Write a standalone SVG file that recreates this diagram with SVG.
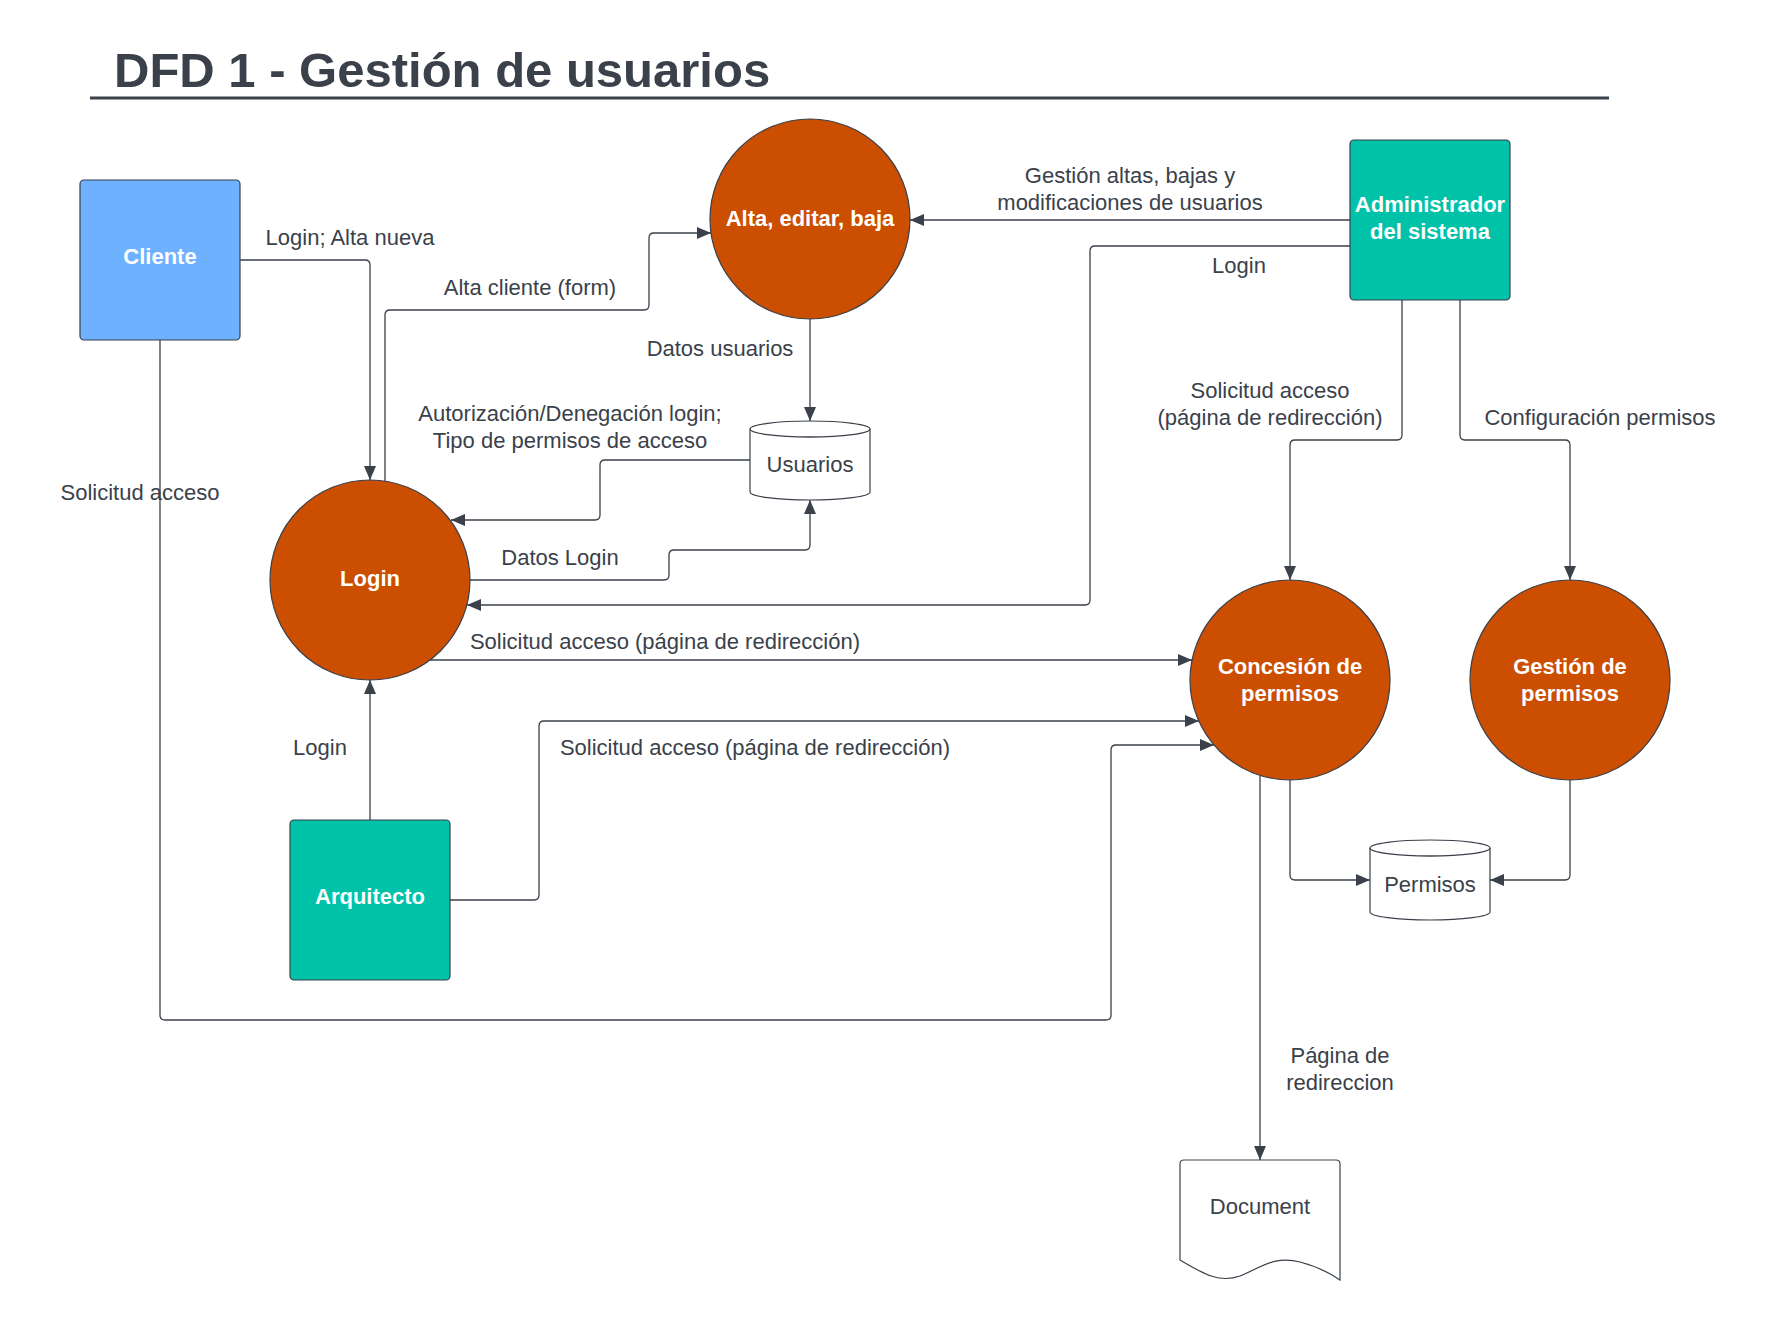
<svg xmlns="http://www.w3.org/2000/svg" width="1770" height="1320" viewBox="0 0 1770 1320">
<defs>
<style>
.ln{fill:none;stroke:#3a414a;stroke-width:1.3;marker-end:url(#ah)}
.nl{fill:none;stroke:#3a414a;stroke-width:1.3}
.lb{font-family:"Liberation Sans",Arial,sans-serif;font-size:22px;fill:#3a414a;text-anchor:middle}
.nt{font-family:"Liberation Sans",Arial,sans-serif;font-size:22px;font-weight:bold;fill:#ffffff;text-anchor:middle}
.proc{fill:#cc4e00;stroke:#3a414a;stroke-width:1.2}
.ent{stroke:#3a414a;stroke-width:1.2}
.store{fill:#ffffff;stroke:#3a414a;stroke-width:1.2}
</style>
<marker id="ah" markerWidth="14" markerHeight="12" refX="14" refY="6" orient="auto" markerUnits="userSpaceOnUse">
<path d="M0,0 L14,6 L0,12 z" fill="#3a414a"/>
</marker>
</defs>
<rect width="1770" height="1320" fill="#ffffff"/>
<g id="title">
<text x="114" y="87" font-family="Liberation Sans,Arial,sans-serif" font-size="49" font-weight="bold" fill="#3a414a">DFD 1 - Gestión de usuarios</text>
<line x1="90" y1="98" x2="1609" y2="98" stroke="#3a414a" stroke-width="3"/>
</g>
<g id="connectors">
<path class="ln" d="M240,260 H365 Q370,260 370,265 V480"/>
<text class="lb" x="350" y="245">Login; Alta nueva</text>
<path class="ln" d="M385,481 V315 Q385,310 390,310 H644 Q649,310 649,305 V238 Q649,233 654,233 H711"/>
<text class="lb" x="530" y="295">Alta cliente (form)</text>
<path class="ln" d="M810,319 V421"/>
<text class="lb" x="720" y="356">Datos usuarios</text>
<path class="ln" d="M750,460 H605 Q600,460 600,465 V515 Q600,520 595,520 H451"/>
<text class="lb" x="570" y="421">Autorización/Denegación login;</text>
<text class="lb" x="570" y="448">Tipo de permisos de acceso</text>
<path class="ln" d="M470,580 H664 Q669,580 669,575 V555 Q669,550 674,550 H805 Q810,550 810,545 V500"/>
<text class="lb" x="560" y="565">Datos Login</text>
<path class="ln" d="M1350,220 H910"/>
<text class="lb" x="1130" y="183">Gestión altas, bajas y</text>
<text class="lb" x="1130" y="210">modificaciones de usuarios</text>
<path class="ln" d="M1350,246 H1095 Q1090,246 1090,251 V600 Q1090,605 1085,605 H467"/>
<text class="lb" x="1239" y="273">Login</text>
<path class="ln" d="M1402,300 V435 Q1402,440 1397,440 H1295 Q1290,440 1290,445 V580"/>
<text class="lb" x="1270" y="398">Solicitud acceso</text>
<text class="lb" x="1270" y="425">(página de redirección)</text>
<path class="ln" d="M1460,300 V435 Q1460,440 1465,440 H1565 Q1570,440 1570,445 V580"/>
<text class="lb" x="1600" y="425">Configuración permisos</text>
<path class="ln" d="M430,660 H1192"/>
<text class="lb" x="665" y="649">Solicitud acceso (página de redirección)</text>
<path class="ln" d="M370,820 V680"/>
<text class="lb" x="320" y="755">Login</text>
<path class="ln" d="M450,900 H534 Q539,900 539,895 V726 Q539,721 544,721 H1199"/>
<text class="lb" x="755" y="755">Solicitud acceso (página de redirección)</text>
<path class="ln" d="M160,340 V1015 Q160,1020 165,1020 H1106 Q1111,1020 1111,1015 V750 Q1111,745 1116,745 H1214"/>
<text class="lb" x="140" y="500">Solicitud acceso</text>
<path class="ln" d="M1290,780 V875 Q1290,880 1295,880 H1370"/>
<path class="ln" d="M1570,780 V875 Q1570,880 1565,880 H1490"/>
<path class="ln" d="M1260,775 V1160"/>
<text class="lb" x="1340" y="1063">Página de</text>
<text class="lb" x="1340" y="1090">redireccion</text>
</g>
<g id="cliente">
<rect class="ent" x="80" y="180" width="160" height="160" rx="4" fill="#6db1ff"/>
<text class="nt" x="160" y="264">Cliente</text>
</g>
<g id="alta">
<circle class="proc" cx="810" cy="219" r="100"/>
<text class="nt" x="810" y="226">Alta, editar, baja</text>
</g>
<g id="admin">
<rect class="ent" x="1350" y="140" width="160" height="160" rx="4" fill="#00c2a8"/>
<text class="nt" x="1430" y="212">Administrador</text>
<text class="nt" x="1430" y="239">del sistema</text>
</g>
<g id="usuarios">
<path class="store" d="M750,429 A60,8 0 0 1 870,429 V492 A60,8 0 0 1 750,492 Z"/>
<path class="nl" d="M750,429 A60,8 0 0 0 870,429"/>
<text class="lb" x="810" y="472">Usuarios</text>
</g>
<g id="login">
<circle class="proc" cx="370" cy="580" r="100"/>
<text class="nt" x="370" y="586">Login</text>
</g>
<g id="concesion">
<circle class="proc" cx="1290" cy="680" r="100"/>
<text class="nt" x="1290" y="674">Concesión de</text>
<text class="nt" x="1290" y="701">permisos</text>
</g>
<g id="gestion">
<circle class="proc" cx="1570" cy="680" r="100"/>
<text class="nt" x="1570" y="674">Gestión de</text>
<text class="nt" x="1570" y="701">permisos</text>
</g>
<g id="permisos">
<path class="store" d="M1370,848 A60,8 0 0 1 1490,848 V912 A60,8 0 0 1 1370,912 Z"/>
<path class="nl" d="M1370,848 A60,8 0 0 0 1490,848"/>
<text class="lb" x="1430" y="892">Permisos</text>
</g>
<g id="arquitecto">
<rect class="ent" x="290" y="820" width="160" height="160" rx="4" fill="#00c2a8"/>
<text class="nt" x="370" y="904">Arquitecto</text>
</g>
<g id="document">
<path class="store" d="M1184,1160 H1336 Q1340,1160 1340,1164 V1280 C1330,1273 1315,1266 1300,1262 C1275,1255 1260,1268 1240,1276 C1220,1283 1205,1275 1180,1260 V1164 Q1180,1160 1184,1160 Z"/>
<text class="lb" x="1260" y="1214">Document</text>
</g>
</svg>
